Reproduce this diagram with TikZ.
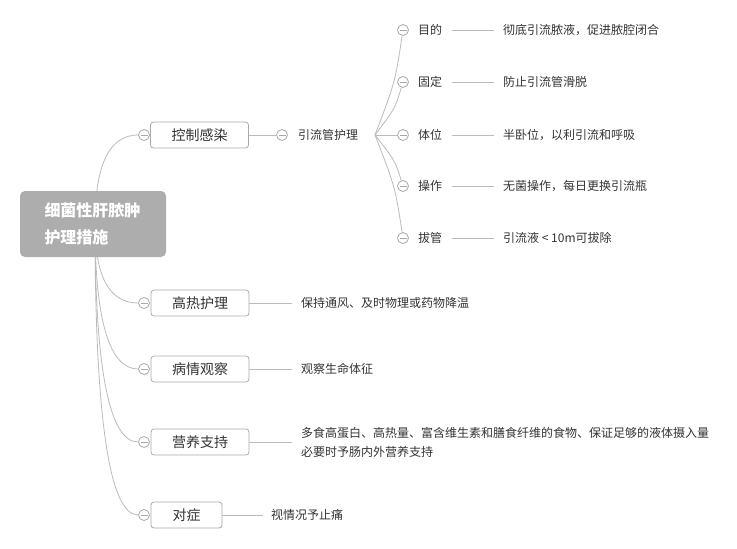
\documentclass[tikz,border=0pt]{standalone}
\usepackage{fontspec}
\newfontfamily\cjk{Noto Sans CJK SC}
\usepackage{tikz}
\usetikzlibrary{calc,backgrounds}
\definecolor{rootgray}{HTML}{ADADAD}
\definecolor{linegray}{HTML}{BBBBBB}
\definecolor{boxgray}{HTML}{A9A9A9}
\definecolor{inkgray}{HTML}{333333}

\begin{document}
\begin{tikzpicture}[x=1pt,y=-1pt]
        \tikzset{rootbox/.style = {fill=rootgray, rounded corners=5pt, text=white, font=\cjk\bfseries\fontsize{16}{27}\selectfont, align=left, text width=97pt, inner xsep=24.5pt, minimum height=66pt}}
        \tikzset{topic/.style = {draw=boxgray, fill=white, rounded corners=3pt, line width=0.8pt, text=inkgray, font=\cjk\fontsize{14}{16}\selectfont, minimum width=98pt, minimum height=26pt, inner sep=0pt}}
        \tikzset{toggle/.style = {circle, draw=boxgray, fill=white, line width=0.8pt, minimum size=11pt, inner sep=0pt, path picture={\draw[boxgray, line width=0.8pt] ($(path picture bounding box.center)+(-3.5,0)$) -- ($(path picture bounding box.center)+(3.5,0)$);}}}
        \tikzset{leaf/.style = {anchor=west, inner sep=0pt, text=inkgray, font=\cjk\fontsize{12}{19}\selectfont, align=left}}
        \tikzset{branch/.style = {draw=linegray, line width=0.8pt}}
        \useasboundingbox (0,0) rectangle (737,549);
        % root
        \node[rootbox] (root) at (93,224) {细菌性肝脓肿\\护理措施};
        \coordinate (rc) at (95,224);
        % main topics
        \node[topic] (infect) at (199.5,135) {控制感染};
        \node[topic] (fever) at (200,303) {高热护理};
        \node[topic] (watch) at (200,369) {病情观察};
        \node[topic] (food) at (200,442) {营养支持};
        \node[topic, minimum width=71pt] (pain) at (186.5,515) {对症};
        \node[toggle] (t1) at (144,135) {};
        \node[toggle] (t2) at (144,303) {};
        \node[toggle] (t3) at (144,369) {};
        \node[toggle] (t4) at (144,442) {};
        \node[toggle] (t5) at (144,515) {};
        % drainage tube
        \node[toggle] (tube) at (282,135) {};
        \node[leaf] (tubetext) at (298,135) {引流管护理};
        \coordinate (hub) at (375,135);
        \node[toggle] (g1) at (403,30) {};
        \node[toggle] (g2) at (403,82) {};
        \node[toggle] (g3) at (403,135) {};
        \node[toggle] (g4) at (403,186) {};
        \node[toggle] (g5) at (403,238) {};
        \node[leaf] (l1) at (418,30) {目的};
        \node[leaf] (l2) at (418,82) {固定};
        \node[leaf] (l3) at (418,135) {体位};
        \node[leaf] (l4) at (418,186) {操作};
        \node[leaf] (l5) at (418,238) {拔管};
        \node[leaf] (d1) at (503,30) {彻底引流脓液，促进脓腔闭合};
        \node[leaf] (d2) at (503,82) {防止引流管滑脱};
        \node[leaf] (d3) at (503,135) {半卧位，以利引流和呼吸};
        \node[leaf] (d4) at (503,186) {无菌操作，每日更换引流瓶};
        \node[leaf] (d5) at (503,238) {引流液 < 10m可拔除};
        % details
        \node[leaf] (dfever) at (301,303) {保持通风、及时物理或药物降温};
        \node[leaf] (dwatch) at (301,369) {观察生命体征};
        \node[leaf] (dfood) at (301,442.5) {多食高蛋白、高热量、富含维生素和膳食纤维的食物、保证足够的液体摄入量\\必要时予肠内外营养支持};
        \node[leaf] (dpain) at (271,515) {视情况予止痛};
        %links
        \begin{scope}[on background layer]
        \foreach \t in {t1,t2,t3,t4,t5}
            \draw[branch] (rc) .. controls ($(rc)!.667!(rc |- \t.west)$) and ($(\t.west)!.667!(rc |- \t.west)$) .. (\t.west);
        \end{scope}
        \draw[branch] (infect) -- (tube);
        \foreach \g in {g1,g2,g4,g5}
            \draw[branch] (hub) .. controls ($(hub)!.5!(\g)+(6,0)$) .. (\g);
        \draw[branch] (hub) -- (g3);
        \foreach \i in {1,...,5}
            \draw[branch, shorten <=10pt, shorten >=9pt] (l\i) -- (d\i);
        \draw[branch, shorten >=9pt] (fever) -- (dfever);
        \draw[branch, shorten >=9pt] (watch) -- (dwatch);
        \draw[branch, shorten >=9pt] (food) -- (food -| dfood.west);
        \draw[branch, shorten >=8pt] (pain) -- (dpain);
        \end{tikzpicture}
\end{document}
